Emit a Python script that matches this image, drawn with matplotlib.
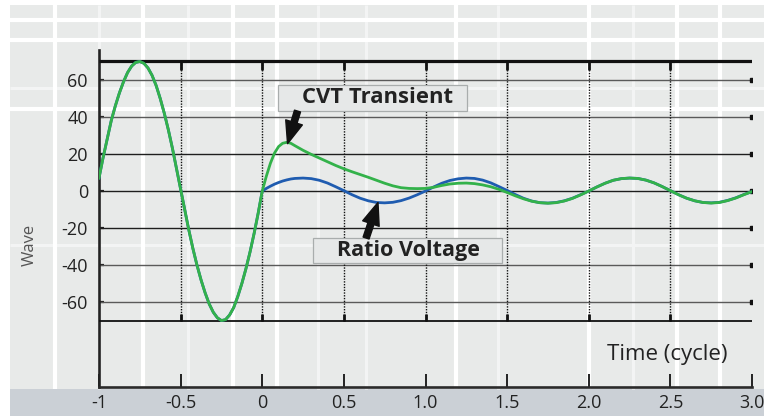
import matplotlib
matplotlib.use("Agg")
import matplotlib.pyplot as plt
from matplotlib.patches import Rectangle

plt.rcParams['font.family'] = ['Open Sans', 'DejaVu Sans']

# ---------------- data ----------------
pre_t = [-1.0, -0.975, -0.95, -0.925, -0.9, -0.875, -0.85, -0.825, -0.8, -0.775,
         -0.75, -0.725, -0.7, -0.675, -0.65, -0.625, -0.6, -0.575, -0.55, -0.525,
         -0.5, -0.475, -0.45, -0.425, -0.4, -0.375, -0.35, -0.325, -0.3, -0.275,
         -0.25, -0.225, -0.2, -0.175, -0.15, -0.125, -0.1, -0.075, -0.05, -0.025, 0.0]
pre_wave = [7, 18, 28, 38, 46, 53, 59, 64, 67.5, 69.5,
            70, 69, 66.5, 62.5, 57, 50, 42, 33, 23, 12,
            1, -10, -21, -31, -40, -48, -55, -61, -65.5, -68.5,
            -70, -69.5, -67, -63, -57, -50, -42, -33, -23, -12, 0]

post_t = [0.025, 0.05, 0.075, 0.1, 0.125, 0.15, 0.175, 0.2,
          0.25, 0.3, 0.35, 0.4, 0.45, 0.5, 0.55, 0.6, 0.65, 0.7, 0.75, 0.8, 0.85, 0.9, 0.95,
          1.0, 1.05, 1.1, 1.15, 1.2, 1.25, 1.3, 1.35, 1.4, 1.45, 1.5, 1.55, 1.6, 1.65, 1.7,
          1.75, 1.8, 1.85, 1.9, 1.95, 2.0, 2.05, 2.1, 2.15, 2.2, 2.25, 2.3, 2.35, 2.4, 2.45,
          2.5, 2.55, 2.6, 2.65, 2.7, 2.75, 2.8, 2.85, 2.9, 2.95, 3.0]
cvt_post = [8, 15, 20.5, 24, 25.8, 26.3, 25.8, 24.5,
            22, 19.8, 17.8, 15.8, 13.8, 12, 10.4, 8.9, 7.4, 5.8, 4.2, 2.8, 1.8, 1.4, 1.3,
            1.4, 2.0, 3.0, 3.8, 4.2, 4.3, 4.0, 3.3, 2.3, 0.9, -0.8, -2.6, -4.2, -5.5, -6.3,
            -6.6, -6.3, -5.4, -4.0, -2.1, 0, 2.2, 4.2, 5.8, 6.7, 7.0, 6.8, 5.9, 4.4, 2.4,
            0.2, -2.0, -3.9, -5.3, -6.2, -6.5, -6.2, -5.2, -3.8, -2.0, -0.3]
ratio_post = [1.4, 2.6, 3.7, 4.6, 5.4, 6.0, 6.5, 6.8,
              7.0, 6.7, 5.8, 4.3, 2.3, 0.2, -2.0, -3.9, -5.3, -6.2, -6.4, -6.1, -5.2, -3.8, -2.0,
              0, 2.2, 4.2, 5.7, 6.6, 7.0, 6.8, 5.9, 4.4, 2.4, 0.3, -1.9, -3.9, -5.4, -6.3,
              -6.5, -6.2, -5.3, -3.9, -2.0, 0, 2.2, 4.2, 5.8, 6.7, 7.0, 6.8, 5.9, 4.4, 2.4,
              0.2, -2.0, -3.9, -5.3, -6.2, -6.4, -6.1, -5.1, -3.7, -1.9, -0.3]

x_ticks = [-1, -0.5, 0, 0.5, 1.0, 1.5, 2.0, 2.5, 3.0]
x_labels = ['-1', '-0.5', '0', '0.5', '1.0', '1.5', '2.0', '2.5', '3.0']
y_ticks = [60, 40, 20, 0, -20, -40, -60]
y_labels = ['60', '40', '20', '0', '-20', '-40', '-60']

GREEN = '#33b24a'
BLUE = '#1f5cb0'

W, H = 764, 416
fig = plt.figure(figsize=(W / 100, H / 100), dpi=100, facecolor='white')

# ---------------- decorative background ----------------
bg = fig.add_axes([0, 0, 1, 1], zorder=0)
bg.set_xlim(0, W)
bg.set_ylim(H, 0)
bg.axis('off')
bg.add_patch(Rectangle((10, 5), W - 10, 384, color='#e8eae9', lw=0))
for xv in [99, 188, 318, 366, 498, 633]:
    bg.plot([xv, xv], [5, 389], color='#f3f4f4', lw=2.2, solid_capstyle='butt')
for yv in [88, 245]:
    bg.plot([10, W], [yv, yv], color='#f3f4f4', lw=2.2, solid_capstyle='butt')
for xv in [55, 143, 233, 277, 456, 589, 677, 720]:
    bg.plot([xv, xv], [5, 389], color='white', lw=3.0, solid_capstyle='butt')
for yv in [20, 40, 109]:
    bg.plot([10, W], [yv, yv], color='white', lw=3.0, solid_capstyle='butt')
bg.add_patch(Rectangle((10, 389), W - 10, H - 389, color='#cbd0d6', lw=0))

# ---------------- main axes ----------------
left_px, right_px, top_px, bot_px = 99, 752, 50, 387
ax = fig.add_axes([left_px / W, 1 - bot_px / H, (right_px - left_px) / W, (bot_px - top_px) / H], zorder=1)
ax.patch.set_alpha(0)
ax.set_xlim(-1, 3.0)
ax.set_ylim(-105.9, 76.2)

for s in ['top', 'right']:
    ax.spines[s].set_visible(False)
ax.spines['left'].set_linewidth(1.9)
ax.spines['left'].set_color('#222222')
ax.spines['bottom'].set_linewidth(1.9)
ax.spines['bottom'].set_color('#2a2a2a')

# horizontal grid lines
for yv in y_ticks:
    c = '#1e1e1e' if yv in (20, 0, -20) else '#5a5a5a'
    ax.hlines(yv, -1, 3.0, color=c, lw=1.0, zorder=2)
ax.plot([3.0] * len(y_ticks), y_ticks, 's', color='#111111', ms=2.6, zorder=3)
ax.hlines(70, -1, 3.0, color='#111111', lw=2.3, zorder=3)
ax.hlines(-70, -1, 3.0, color='#111111', lw=1.3, zorder=3)

# vertical dotted lines
inner_x = x_ticks[1:-1]
ax.vlines(inner_x, -70, 70, color='#111111', lw=1.0, linestyles=(0, (1, 1)), zorder=2)
ax.vlines(inner_x, 65.5, 70, color='#111111', lw=2.0, zorder=3)
ax.vlines(inner_x, -70, -66.5, color='#111111', lw=2.0, zorder=3)

# curves
ax.plot(pre_t + post_t, pre_wave + ratio_post, color=BLUE, lw=2.0, zorder=4, solid_joinstyle='round')
ax.plot(pre_t + post_t, pre_wave + cvt_post, color=GREEN, lw=2.0, zorder=5, solid_joinstyle='round')

# ticks
ax.set_xticks(x_ticks)
ax.set_xticklabels(x_labels)
ax.set_yticks(y_ticks)
ax.set_yticklabels(y_labels)
ax.tick_params(axis='x', direction='in', length=9.5, width=1.4, color='#222222',
               labelsize=13, labelcolor='#222222', pad=5)
ax.tick_params(axis='y', direction='in', length=3.5, width=1.6, color='#222222',
               labelsize=13, labelcolor='#222222', pad=8)

# axis titles
ax.text(2.48, -88.6, 'Time (cycle)', ha='center', va='center', fontsize=16, color='#222222', zorder=6)
fig.text(30 / W, 1 - 245 / H, 'Wave', rotation=90, ha='center', va='center',
         fontsize=12, color='#555555')

# annotation boxes
ax.add_patch(Rectangle((0.0965, 43.2), 1.1575, 14.1, facecolor='#e6e8e8', edgecolor='#a9adad',
                       lw=0.9, zorder=7))
ax.text(0.703, 50.3, 'CVT Transient', ha='center', va='center', fontsize=15.8,
        fontweight='bold', color='#222222', zorder=8)
ax.add_patch(Rectangle((0.311, -38.9), 1.158, 13.5, facecolor='#e6e8e8', edgecolor='#a9adad',
                       lw=0.9, zorder=7))
ax.text(0.896, -32.2, 'Ratio Voltage', ha='center', va='center', fontsize=15.5,
        fontweight='bold', color='#222222', zorder=8)

arrow_style = 'simple,head_length=1.6,head_width=1.25,tail_width=0.45'
ax.annotate('', xy=(0.155, 25.6), xytext=(0.216, 43.2),
            arrowprops=dict(arrowstyle=arrow_style, color='#111111', mutation_scale=10,
                            shrinkA=0, shrinkB=0), zorder=9)
ax.annotate('', xy=(0.709, -6.2), xytext=(0.636, -25.4),
            arrowprops=dict(arrowstyle=arrow_style, color='#111111', mutation_scale=10,
                            shrinkA=0, shrinkB=0), zorder=9)

fig.savefig('out.png', dpi=100, facecolor='white')
